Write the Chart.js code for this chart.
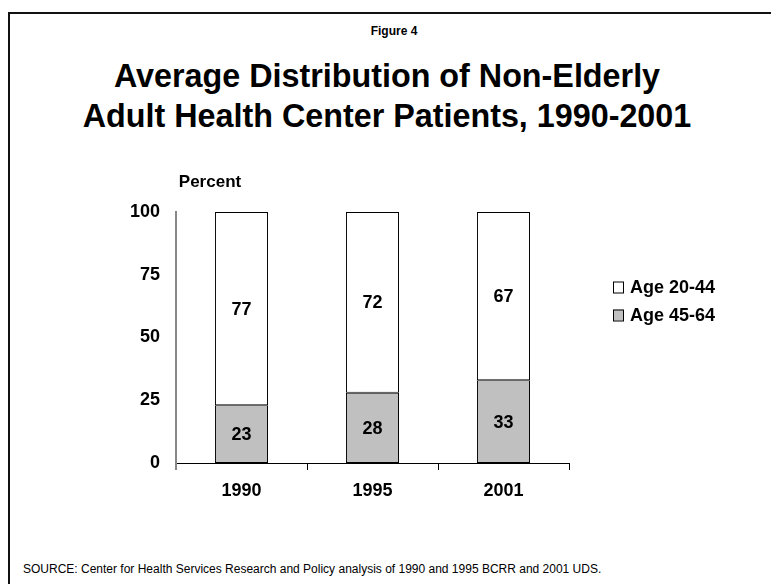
<!DOCTYPE html>
<html>
<head>
<meta charset="utf-8">
<script src="https://cdn.jsdelivr.net/npm/chart.js@4.4.0/dist/chart.umd.min.js"></script>
<style>
  body { margin: 0; background: #fff; font-family: "Liberation Sans", Arial, sans-serif; }
  #wrap { position: relative; width: 771px; height: 584px; overflow: hidden; }
  #frame { position: absolute; left: 8px; top: 12px; width: 800px; height: 600px;
           border-left: 2px solid #111; border-top: 2px solid #111; }
  #fig { position: absolute; left: 344px; width: 100px; top: 24px; text-align: center;
         font-weight: bold; font-size: 12px; }
  #title { position: absolute; left: 0; width: 774px; top: 55px; text-align: center;
           font-weight: bold; font-size: 34px; line-height: 40px;
           transform: scaleX(0.95); transform-origin: 387px 0; }
  #source { position: absolute; left: 23px; top: 562px; font-size: 12px; }
  canvas { position: absolute; left: 0; top: 0; }
</style>
</head>
<body>
<div id="wrap">
  <div id="frame"></div>
  <div id="fig">Figure 4</div>
  <div id="title">Average Distribution of Non-Elderly<br>Adult Health Center Patients, 1990-2001</div>
  <div id="source">SOURCE: Center for Health Services Research and Policy analysis of 1990 and 1995 BCRR and 2001 UDS.</div>
  <canvas id="chart" width="771" height="584"></canvas>
</div>
<script>
// data
var years = ['1990', '1995', '2001'];
var age2044 = [77, 72, 67];
var age4564 = [23, 28, 33];
var yTicks = [0, 25, 50, 75, 100];

var FONT = '"Liberation Sans", Arial, sans-serif';

// value labels in the middle of each segment
var valueLabels = {
  id: 'valueLabels',
  afterDatasetsDraw: function(chart) {
    var ctx = chart.ctx;
    ctx.save();
    ctx.font = 'bold 18px ' + FONT;
    ctx.fillStyle = '#000';
    ctx.textAlign = 'center';
    ctx.textBaseline = 'middle';
    chart.data.datasets.forEach(function(ds, i) {
      chart.getDatasetMeta(i).data.forEach(function(bar, j) {
        ctx.fillText(ds.data[j], bar.x, (bar.y + bar.base) / 2 + 1);
      });
    });
    ctx.restore();
  }
};

// "Percent" label + legend on the right
var extras = {
  id: 'extras',
  afterDraw: function(chart) {
    var ctx = chart.ctx;
    var area = chart.chartArea;
    ctx.save();
    ctx.fillStyle = '#000';
    ctx.textBaseline = 'middle';
    ctx.font = 'bold 17px ' + FONT;
    ctx.textAlign = 'center';
    ctx.fillText('Percent', area.left + 34, area.top - 30);

    ctx.font = 'bold 18px ' + FONT;
    ctx.textAlign = 'left';
    var order = [1, 0];
    order.forEach(function(idx, k) {
      var ds = chart.data.datasets[idx];
      var y = area.top + 75 + k * 28;
      var x = area.right + 44;
      ctx.fillStyle = ds.backgroundColor;
      ctx.fillRect(x, y - 5.5, 10, 11);
      ctx.strokeStyle = '#000';
      ctx.lineWidth = 1;
      ctx.strokeRect(x + 0.5, y - 5, 10, 11);
      ctx.fillStyle = '#000';
      ctx.fillText(ds.label, x + 17, y + 1);
    });
    ctx.restore();
  }
};

var ctx = document.getElementById('chart').getContext('2d');
var chart = new Chart(ctx, {
  type: 'bar',
  data: {
    labels: years,
    datasets: [
      {
        label: 'Age 45-64',
        data: age4564,
        backgroundColor: '#c0c0c0',
        borderColor: '#000',
        borderWidth: 1,
        borderSkipped: false,
        barPercentage: 0.405,
        categoryPercentage: 1
      },
      {
        label: 'Age 20-44',
        data: age2044,
        backgroundColor: '#ffffff',
        borderColor: '#000',
        borderWidth: 1,
        borderSkipped: false,
        barPercentage: 0.405,
        categoryPercentage: 1
      }
    ]
  },
  options: {
    responsive: false,
    animation: false,
    layout: { padding: { left: 0, top: 212, right: 202, bottom: 81 } },
    plugins: {
      legend: { display: false },
      title: { display: false },
      tooltip: { enabled: false }
    },
    scales: {
      x: {
        stacked: true,
        afterFit: function(scale) { scale.height = 40; },
        grid: {
          display: true,
          offset: true,
          drawOnChartArea: false,
          drawTicks: true,
          tickLength: 7,
          color: function(c) { return c.index === 0 ? '#888' : '#000'; },
          lineWidth: function(c) { return c.index === 0 ? 2 : 1; }
        },
        border: { display: true, color: '#000', width: 1 },
        ticks: {
          color: '#000',
          padding: 10,
          font: { family: FONT, size: 18, weight: 'bold' }
        }
      },
      y: {
        stacked: true,
        min: 0,
        max: 100,
        afterFit: function(scale) { scale.width = 176; },
        afterBuildTicks: function(scale) {
          scale.ticks = yTicks.map(function(v) { return { value: v }; });
        },
        grid: { display: false, drawTicks: false },
        border: { display: true, color: '#888', width: 2 },
        ticks: {
          color: '#000',
          padding: 16,
          font: { family: FONT, size: 18, weight: 'bold' }
        }
      }
    }
  },
  plugins: [valueLabels, extras]
});
</script>
</body>
</html>
